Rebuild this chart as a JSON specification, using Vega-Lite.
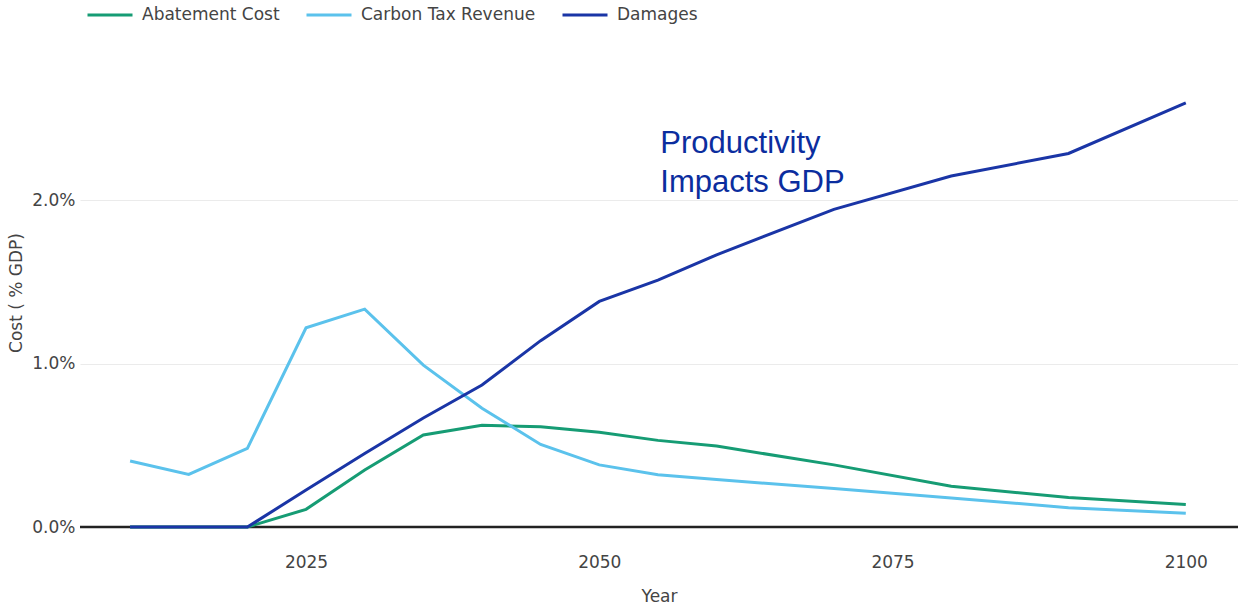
{
  "$schema": "https://vega.github.io/schema/vega-lite/v6.json",
  "autosize": "none",
  "width": 1158,
  "height": 505,
  "padding": {"left": 80, "top": 40, "right": 0, "bottom": 64},
  "background": "white",
  "config": {
    "view": {"stroke": null},
    "font": "DejaVu Sans",
    "axis": {"labelFont": "DejaVu Sans", "titleFont": "DejaVu Sans", "labelColor": "#444", "titleColor": "#444", "titleFontWeight": "normal"},
    "legend": {"labelFont": "DejaVu Sans", "labelColor": "#444"}
  },
  "datasets": {
    "series": [
      {"year": 2010, "series": "Abatement Cost", "value": 0},
      {"year": 2015, "series": "Abatement Cost", "value": 0},
      {"year": 2020, "series": "Abatement Cost", "value": 0},
      {"year": 2025, "series": "Abatement Cost", "value": 0.108},
      {"year": 2030, "series": "Abatement Cost", "value": 0.349},
      {"year": 2035, "series": "Abatement Cost", "value": 0.563},
      {"year": 2040, "series": "Abatement Cost", "value": 0.622},
      {"year": 2045, "series": "Abatement Cost", "value": 0.613},
      {"year": 2050, "series": "Abatement Cost", "value": 0.58},
      {"year": 2055, "series": "Abatement Cost", "value": 0.53},
      {"year": 2060, "series": "Abatement Cost", "value": 0.495},
      {"year": 2070, "series": "Abatement Cost", "value": 0.38},
      {"year": 2080, "series": "Abatement Cost", "value": 0.25},
      {"year": 2090, "series": "Abatement Cost", "value": 0.18},
      {"year": 2100, "series": "Abatement Cost", "value": 0.138},
      {"year": 2010, "series": "Carbon Tax Revenue", "value": 0.404},
      {"year": 2015, "series": "Carbon Tax Revenue", "value": 0.322},
      {"year": 2020, "series": "Carbon Tax Revenue", "value": 0.481},
      {"year": 2025, "series": "Carbon Tax Revenue", "value": 1.219},
      {"year": 2030, "series": "Carbon Tax Revenue", "value": 1.333},
      {"year": 2035, "series": "Carbon Tax Revenue", "value": 0.99},
      {"year": 2040, "series": "Carbon Tax Revenue", "value": 0.726},
      {"year": 2045, "series": "Carbon Tax Revenue", "value": 0.505},
      {"year": 2050, "series": "Carbon Tax Revenue", "value": 0.38},
      {"year": 2055, "series": "Carbon Tax Revenue", "value": 0.32},
      {"year": 2060, "series": "Carbon Tax Revenue", "value": 0.29},
      {"year": 2070, "series": "Carbon Tax Revenue", "value": 0.235},
      {"year": 2080, "series": "Carbon Tax Revenue", "value": 0.178},
      {"year": 2090, "series": "Carbon Tax Revenue", "value": 0.118},
      {"year": 2100, "series": "Carbon Tax Revenue", "value": 0.084},
      {"year": 2010, "series": "Damages", "value": 0},
      {"year": 2015, "series": "Damages", "value": 0},
      {"year": 2020, "series": "Damages", "value": 0},
      {"year": 2025, "series": "Damages", "value": 0.226},
      {"year": 2030, "series": "Damages", "value": 0.45},
      {"year": 2035, "series": "Damages", "value": 0.667},
      {"year": 2040, "series": "Damages", "value": 0.869},
      {"year": 2045, "series": "Damages", "value": 1.14},
      {"year": 2050, "series": "Damages", "value": 1.38},
      {"year": 2055, "series": "Damages", "value": 1.51},
      {"year": 2060, "series": "Damages", "value": 1.665},
      {"year": 2070, "series": "Damages", "value": 1.943},
      {"year": 2080, "series": "Damages", "value": 2.147},
      {"year": 2090, "series": "Damages", "value": 2.285},
      {"year": 2100, "series": "Damages", "value": 2.595}
    ],
    "zero": [{"value": 0}],
    "note": [{"year": 2055.2, "value": 2.29, "label": "Productivity\nImpacts GDP"}]
  },
  "layer": [
    {
      "data": {"name": "zero"},
      "mark": {"type": "rule", "color": "#222", "strokeWidth": 2.5},
      "encoding": {
        "y": {
          "field": "value", "type": "quantitative",
          "scale": {"domain": [-0.11, 2.979], "nice": false, "zero": false},
          "axis": {
            "values": [0, 1, 2],
            "labelExpr": "format(datum.value, '.1f') + '%'",
            "domain": false, "ticks": false,
            "grid": true, "gridColor": "#ebebeb", "gridWidth": 1,
            "labelFontSize": 17, "labelPadding": 5,
            "title": "Cost ( % GDP)", "titleFontSize": 17, "titlePadding": 6
          }
        }
      }
    },
    {
      "data": {"name": "series"},
      "mark": {"type": "line", "strokeWidth": 3},
      "encoding": {
        "x": {
          "field": "year", "type": "quantitative",
          "scale": {"domain": [2005.73, 2104.45], "nice": false, "zero": false},
          "axis": {
            "values": [2025, 2050, 2075, 2100], "format": "d",
            "domain": false, "ticks": false, "grid": false,
            "labelFontSize": 17, "labelPadding": 9,
            "title": "Year", "titleFontSize": 17, "titlePadding": 18
          }
        },
        "y": {"field": "value", "type": "quantitative"},
        "color": {
          "field": "series", "type": "nominal",
          "scale": {"domain": ["Abatement Cost", "Carbon Tax Revenue", "Damages"], "range": ["#169c74", "#5bc2ec", "#1a35a6"]},
          "legend": {
            "title": null, "orient": "none", "direction": "horizontal",
            "legendX": 6, "legendY": -49, "padding": 0,
            "symbolType": "stroke", "symbolSize": 2025, "symbolStrokeWidth": 3,
            "labelFontSize": 17, "labelOffset": 8, "columnPadding": 20, "labelLimit": 400
          }
        }
      }
    },
    {
      "data": {"name": "note"},
      "mark": {"type": "text", "align": "left", "baseline": "alphabetic", "font": "Liberation Sans", "fontSize": 31, "lineHeight": 39, "lineBreak": "\n", "color": "#0b2d9e"},
      "encoding": {
        "x": {"field": "year", "type": "quantitative"},
        "y": {"field": "value", "type": "quantitative"},
        "text": {"field": "label"}
      }
    }
  ]
}
